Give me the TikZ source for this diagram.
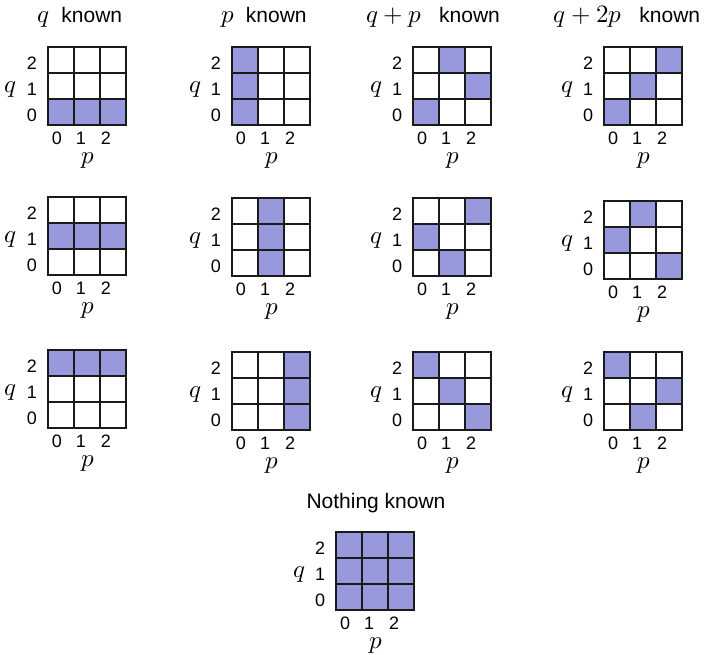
\documentclass[tikz,border=0pt]{standalone}
\usepackage{fontspec}
\usepackage{unicode-math}
\setmainfont{Liberation Sans}
\setmathfont{Latin Modern Math}
\usepackage{xcolor}
\definecolor{CellBlue}{HTML}{9898DC}
\definecolor{GridInk}{HTML}{1A1A1A}

\newcommand{\bigmath}[1]{{\fontsize{25}{27}\selectfont$#1$}}

% one 3x3 phase-space panel: name, left, top, filled cells p/q
\newcommand{\qpgrid}[4]{%
  \begin{scope}[shift={(#2,#3)}]
    \foreach \p/\q in {#4}
      \fill[cell] (26*\p,52-26*\q) rectangle ++(26,26);
    \foreach \k in {0,26,52,78} {
      \draw[gridln] (\k,0) -- (\k,78);
      \draw[gridln] (0,\k) -- (78,\k);
    }
    \foreach \n/\xt in {0/9,1/33,2/58} {
      \node[tick] (#1-q\n) at (-16,68-26*\n) {\n};
      \node[tick] (#1-p\n) at (\xt,91) {\n};
    }
    \node[axis] (#1-q) at (-37,42) {$q$};
    \node[axis] (#1-p) at (40,113) {$p$};
  \end{scope}}

\begin{document}
\begin{tikzpicture}[x=1pt, y=-1pt]
    \tikzstyle{cell} = [fill=CellBlue]
    \tikzstyle{gridln} = [draw=GridInk, line width=1.3pt, line cap=rect]
    \tikzstyle{tick} = [inner sep=0pt, font=\fontsize{18}{20}\selectfont]
    \tikzstyle{axis} = [inner sep=0pt, font=\fontsize{25}{27}\selectfont]
    \tikzstyle{head} = [inner sep=0pt, font=\fontsize{21}{24}\selectfont]

    \useasboundingbox (0,0) rectangle (708,654);
    \fill[white] (0,0) rectangle (708,654);

    % column headings
    \node[head] (tq) at (80,17) {\bigmath{q}\ \ known};
    \node[head] (tp) at (264,17) {\bigmath{p}\ \ known};
    \node[head] (tqp) at (433,17) {\bigmath{q+p}\ \ \ known};
    \node[head] (tqtp) at (627,17) {\bigmath{q+2p}\ \ \ known};

    % first row
    \qpgrid{a1}{48}{47}{0/0,1/0,2/0}
    \qpgrid{b1}{232}{47}{0/0,0/1,0/2}
    \qpgrid{c1}{413}{47}{0/0,1/2,2/1}
    \qpgrid{d1}{604}{47}{0/0,1/1,2/2}

    % second row
    \qpgrid{a2}{48}{197}{0/1,1/1,2/1}
    \qpgrid{b2}{232}{198}{1/0,1/1,1/2}
    \qpgrid{c2}{413}{198}{2/2,0/1,1/0}
    \qpgrid{d2}{604}{201}{1/2,0/1,2/0}

    % third row
    \qpgrid{a3}{48}{350}{0/2,1/2,2/2}
    \qpgrid{b3}{232}{352}{2/0,2/1,2/2}
    \qpgrid{c3}{413}{352}{0/2,1/1,2/0}
    \qpgrid{d3}{604}{352}{0/2,2/1,1/0}

    % bottom panel
    \node[head] (tnone) at (376,503) {Nothing known};
    \qpgrid{e}{336}{532}{0/0,1/0,2/0,0/1,1/1,2/1,0/2,1/2,2/2}
  \end{tikzpicture}
\end{document}
